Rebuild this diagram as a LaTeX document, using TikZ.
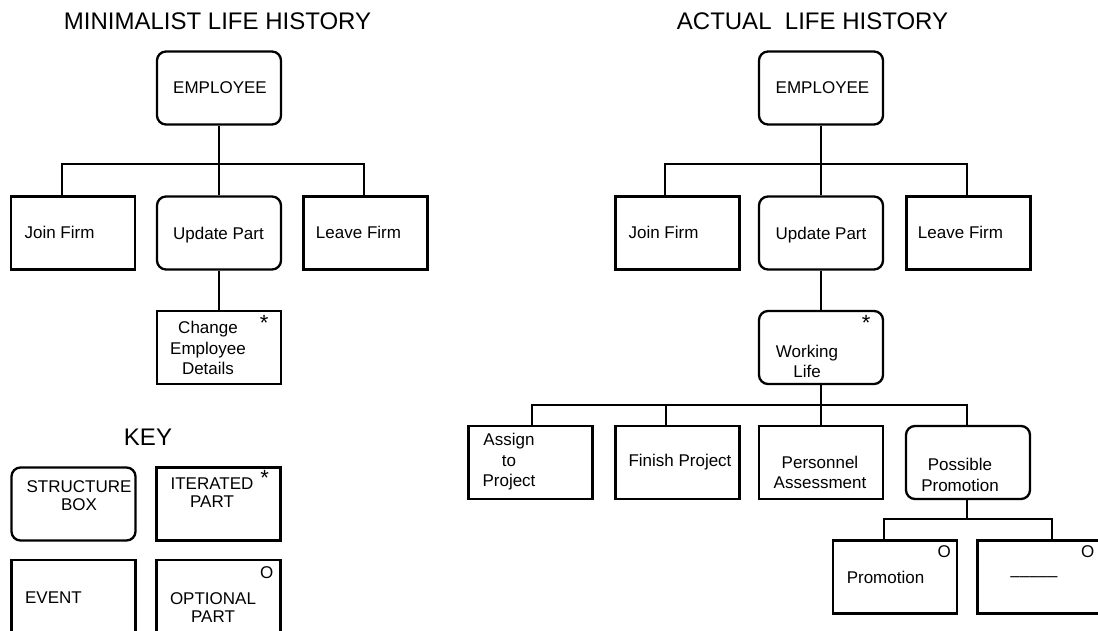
\documentclass[tikz,border=0pt]{standalone}
\usepackage{fontspec}
\setmainfont{Liberation Sans}
\tikzset{
  struct/.style={draw,line width=2.3pt,rounded corners=9pt,minimum width=124pt,minimum height=73pt,inner sep=0pt},
  event/.style={draw,line width=2.3pt,minimum width=124pt,minimum height=73pt,inner sep=0pt},
  lbl/.style={font=\fontsize{17}{20.5}\selectfont,align=center,inner sep=0pt},
  keylbl/.style={font=\fontsize{17}{18}\selectfont,align=center,inner sep=0pt},
  marker/.style={font=\fontsize{17}{17}\selectfont,inner sep=0pt},
  starmark/.style={font=\fontsize{22}{22}\selectfont,inner sep=0pt,anchor=north},
  heading/.style={font=\fontsize{24}{28}\selectfont,inner sep=0pt}
}
\begin{document}
\begin{tikzpicture}[x=1pt,y=-1pt,line width=2.3pt]
    \useasboundingbox (0,0) rectangle (1098,631);
    \clip (0,0) rectangle (1098,631);
    % minimalist life history
    \node[heading] (ltitle) at (217.5,21.5) {MINIMALIST LIFE HISTORY};
    \node[struct] (lemp) at (219,88) {};
    \node[lbl] (lemp-t) at (220,88) {EMPLOYEE};
    \node[event] (ljoin) at (73,233) {};
    \node[lbl] (ljoin-t) at (59.5,232) {Join Firm};
    \node[struct] (lupd) at (219,233) {};
    \node[lbl] (lupd-t) at (218.5,235) {Update Part};
    \node[event] (lleave) at (365.5,233) {};
    \node[lbl] (lleave-t) at (358.5,232) {Leave Firm};
    \node[event] (lchg) at (219,347.5) {};
    \node[lbl] (lchg-t) at (208,348) {Change\\Employee\\Details};
    \node[starmark] (lchg-m) at ([shift={(-18,4)}]lchg.north east) {*};
    \coordinate (lbus) at (219,164);
    \draw (lemp.south) -- (lbus) -- (lupd.north);
    \draw ([xshift=-11pt]ljoin.north) |- (lbus) -| ([xshift=-1.5pt]lleave.north);
    \draw (lupd.south) -- (lchg.north);
    % key
    \node[heading] (keytitle) at (148,437.5) {KEY};
    \node[struct] (kstruct) at (73.5,504) {};
    \node[keylbl] (kstruct-t) at (79,496) {STRUCTURE\\BOX};
    \node[event] (kiter) at (218.5,504) {};
    \node[keylbl] (kiter-t) at (212,493) {ITERATED\\PART};
    \node[starmark] (kiter-m) at ([shift={(-17,3)}]kiter.north east) {*};
    \node[event] (kevent) at (73.5,596.5) {};
    \node[keylbl] (kevent-t) at (53.5,598) {EVENT};
    \node[event] (kopt) at (218.5,596.5) {};
    \node[keylbl] (kopt-t) at (213,607.5) {OPTIONAL\\PART};
    \node[marker] (kopt-m) at ([shift={(-15,14)}]kopt.north east) {O};
    % actual life history
    \node[heading] (rtitle) at (812.5,21.5) {ACTUAL\ \ LIFE HISTORY};
    \node[struct] (remp) at (821,88) {};
    \node[lbl] (remp-t) at (822.5,88) {EMPLOYEE};
    \node[event] (rjoin) at (677.5,233) {};
    \node[lbl] (rjoin-t) at (663.5,232) {Join Firm};
    \node[struct] (rupd) at (821,233) {};
    \node[lbl] (rupd-t) at (821,235) {Update Part};
    \node[event] (rleave) at (968.5,233) {};
    \node[lbl] (rleave-t) at (960.5,232) {Leave Firm};
    \node[struct] (rwork) at (821,347.5) {};
    \node[lbl] (rwork-t) at (807,361.5) {Working\\Life};
    \node[starmark] (rwork-m) at ([shift={(-18,4)}]rwork.north east) {*};
    \node[event] (rassign) at (530.5,462.5) {};
    \node[lbl] (rassign-t) at (509,462) {Assign\\to\\Project};
    \node[event] (rfinish) at (677.5,462.5) {};
    \node[lbl] (rfinish-t) at (680,462) {Finish Project};
    \node[event] (rpers) at (821,462.5) {};
    \node[lbl] (rpers-t) at (820,472.5) {Personnel\\Assessment};
    \node[struct] (rposs) at (968,462.5) {};
    \node[lbl] (rposs-t) at (960,475) {Possible\\Promotion};
    \node[event] (rprom) at (895,577) {};
    \node[lbl] (rprom-t) at (885.5,577) {Promotion};
    \node[marker] (rprom-m) at ([shift={(-14,12)}]rprom.north east) {O};
    \node[event] (rnone) at (1039.5,577) {};
    \node[lbl] (rnone-t) at (1034,579) {–––––};
    \node[marker] (rnone-m) at ([shift={(-15,12)}]rnone.north east) {O};
    \coordinate (rbus) at (821,164);
    \draw (remp.south) -- (rbus) -- (rupd.north);
    \draw ([xshift=-12.5pt]rjoin.north) |- (rbus) -| ([xshift=-1.5pt]rleave.north);
    \draw (rupd.south) -- (rwork.north);
    \coordinate (wbus) at (821,405);
    \draw (rwork.south) -- (wbus) -- (rpers.north);
    \draw ([xshift=1.5pt]rassign.north) |- (wbus) -| ([xshift=-1pt]rposs.north);
    \draw ([xshift=-11.5pt]rfinish.north) |- (wbus);
    \coordinate (pbus) at (967,519);
    \draw ([xshift=-1pt]rposs.south) -- (pbus);
    \draw ([xshift=-11pt]rprom.north) |- (pbus) -| ([xshift=12.5pt]rnone.north);
\end{tikzpicture}
\end{document}
